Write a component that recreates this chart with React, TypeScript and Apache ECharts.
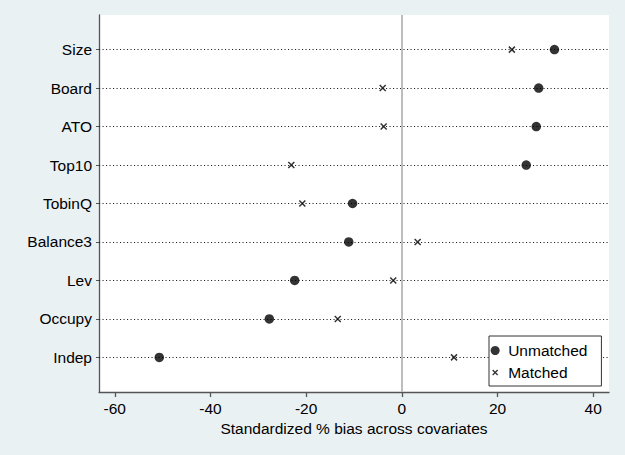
import React, { useEffect, useRef } from "react";
import * as echarts from "echarts";

const categories = ["Size", "Board", "ATO", "Top10", "TobinQ", "Balance3", "Lev", "Occupy", "Indep"];
const unmatched = [31.9, 28.6, 28.1, 26.0, -10.3, -11.1, -22.4, -27.7, -50.7];
const matched = [23.0, -4.0, -3.8, -23.1, -20.8, 3.3, -1.8, -13.4, 10.9];
const xTicks = [-60, -40, -20, 0, 20, 40];
const seriesNames = ["Unmatched", "Matched"];

const CROSS = "path://M0,0L10,10M10,0L0,10";
const CROSS_LEGEND = "path://M-4,-4L-4,-4M0,0L10,10M10,0L0,10M14,14L14,14";
const FONT = "Liberation Sans";
const FS = 15.5;

export default function App() {
  const ref = useRef<HTMLDivElement>(null);
  useEffect(() => {
    if (!ref.current) return;
    const chart = echarts.init(ref.current, null, { renderer: "svg" });
    const n = categories.length;
    const yPos = (i: number) => n - 1 - i;
    const yIdx = categories.map((_, i) => yPos(i));
    const option: any = {
      animation: false,
      backgroundColor: "#eaf1f3",
      textStyle: { fontFamily: FONT },
      grid: {
        left: 99,
        top: 15,
        width: 510,
        height: 377,
        show: true,
        backgroundColor: "#ffffff",
        borderWidth: 0,
      },
      xAxis: {
        type: "value",
        min: -63.3,
        max: 43.3,
        splitLine: { show: false },
        axisLine: { show: true, onZero: false, lineStyle: { color: "#555555", width: 1.3 } },
        axisTick: { show: true, length: 5, customValues: xTicks, lineStyle: { color: "#555555", width: 1.3 } },
        axisLabel: {
          customValues: xTicks,
          margin: 8,
          color: "#000",
          fontSize: FS,
          fontFamily: FONT,
        },
        name: "Standardized % bias across covariates",
        nameLocation: "middle",
        nameGap: 27,
        nameTextStyle: { color: "#000", fontSize: FS, fontFamily: FONT },
      },
      yAxis: {
        type: "value",
        min: -0.9,
        max: n - 1 + 0.9,
        splitLine: { show: false },
        axisLine: { show: true, onZero: false, lineStyle: { color: "#555555", width: 1.3 } },
        axisTick: { show: true, length: 3, customValues: yIdx, lineStyle: { color: "#555555", width: 1 } },
        axisLabel: {
          customValues: yIdx,
          margin: 7,
          color: "#000",
          fontSize: FS,
          fontFamily: FONT,
          formatter: (v: number) => categories[n - 1 - Math.round(v)] ?? "",
        },
      },
      legend: {
        orient: "vertical",
        left: 489,
        top: 336,
        backgroundColor: "#ffffff",
        borderColor: "#333333",
        borderWidth: 1,
        borderRadius: 0,
        padding: [6, 14, 5, 1],
        itemWidth: 16,
        itemHeight: 9,
        itemGap: 5,
        textStyle: { color: "#000", fontSize: FS, fontFamily: FONT, lineHeight: 17 },
        data: [
          { name: seriesNames[0], icon: "circle" },
          { name: seriesNames[1], icon: CROSS_LEGEND, itemStyle: { color: "#000", borderColor: "#000", borderWidth: 1.3 } },
        ],
      },
      series: [
        {
          name: seriesNames[0],
          type: "scatter",
          symbol: "circle",
          symbolSize: 9.5,
          itemStyle: { color: "#000" },
          data: unmatched.map((v, i) => [v, yPos(i)]),
          z: 5,
          markLine: {
            silent: true,
            symbol: ["none", "none"],
            label: { show: false },
            z: 1,
            data: [
              ...categories.map((_, i) => ({
                yAxis: yPos(i),
                lineStyle: { type: [1.1, 2.4], color: "#222222", width: 1.1 },
              })),
              { xAxis: 0, lineStyle: { type: "solid", color: "#bdbdbd", width: 2 } },
            ],
          },
        },
        {
          name: seriesNames[1],
          type: "scatter",
          symbol: CROSS,
          symbolSize: 6,
          itemStyle: { color: "#000", borderColor: "#000", borderWidth: 1.5 },
          data: matched.map((v, i) => [v, yPos(i)]),
          z: 6,
        },
      ],
    };
    chart.setOption(option);
    return () => chart.dispose();
  }, []);
  return (
    <div
      ref={ref}
      style={{ position: "fixed", left: 0, top: 0, width: 625, height: 455 }}
    />
  );
}
